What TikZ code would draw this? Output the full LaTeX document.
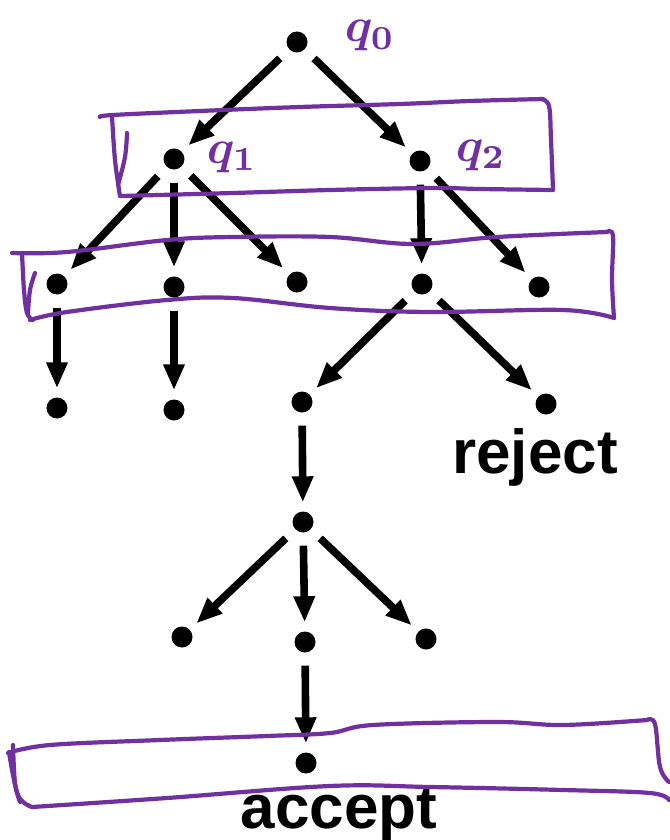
\documentclass[tikz,border=0pt]{standalone}
\usepackage{fontspec}
\setmainfont{Liberation Sans}
\usetikzlibrary{arrows.meta}
\definecolor{penc}{RGB}{112,48,160}
\begin{document}
\begin{tikzpicture}[x=1pt,y=-1pt,
  state/.style={circle,fill=black,inner sep=0pt,minimum size=21pt},
  move/.style={line width=7.6pt,-{Triangle[length=26pt,width=20pt]},shorten <=13pt,shorten >=9pt},
  pen/.style={draw=penc,line width=4.2pt,line cap=round,line join=round},
  hand/.style={text=penc,inner sep=0pt,scale=4.8,font=\boldmath},
  word/.style={anchor=base,inner sep=0pt,font=\bfseries\fontsize{62}{70}\selectfont}]
\useasboundingbox (0,0) rectangle (669,840);

% states of the computation tree
\node[state] (q0) at (297,42) {};
\node[state] (q1) at (174,159) {};
\node[state] (q2) at (420,161) {};
\node[state] (a1) at (57,284) {};
\node[state] (a2) at (174,287) {};
\node[state] (a3) at (297,282) {};
\node[state] (a4) at (422,284) {};
\node[state] (a5) at (539,287) {};
\node[state] (b1) at (57,408) {};
\node[state] (b2) at (174,410) {};
\node[state] (b3) at (302,402) {};
\node[state] (b4) at (546,404) {};
\node[state] (c1) at (303,522) {};
\node[state] (d1) at (182,637) {};
\node[state] (d2) at (305,642) {};
\node[state] (d3) at (426,639) {};
\node[state] (e1) at (306,763) {};

% transitions
\foreach \s/\t in {q0/q1,q0/q2,q1/a1,q1/a2,q1/a3,q2/a4,q2/a5,a1/b1,a2/b2,a4/b3,a4/b4,b3/c1,c1/d1,c1/d2,c1/d3,d2/e1}
  \draw[move] (\s) -- (\t);

% outcome words
\node[word] (rej) at (535,473) {reject};
\node[word] (acc) at (339,828) {accept};

% hand-drawn state labels
\node[hand] (l0) at (370,36) {$q_0$};
\node[hand] (l1) at (232,157) {$q_1$};
\node[hand] (l2) at (481,155) {$q_2$};

% hand-drawn level boxes
\draw[pen] plot[smooth,tension=0.6] coordinates {(100,117) (113,115) (200,111) (300,107) (400,104) (470,101) (543,99)};
\draw[pen] plot[smooth,tension=0.6] coordinates {(541,99) (549,106) (551,140) (553,190)};
\draw[pen] plot[smooth,tension=0.6] coordinates {(553,190) (480,189) (433,188) (330,190) (233,193) (120,196)};
\draw[pen] plot[smooth,tension=0.6] coordinates {(112,116) (115,160) (120,196)};
\draw[pen] plot[smooth,tension=0.6] coordinates {(127,133) (125,157) (118,185)};

\draw[pen] plot[smooth,tension=0.6] coordinates {(12,253) (67,252) (167,240) (233,237) (330,237) (413,244) (497,237) (607,232)};
\draw[pen] plot[smooth,tension=0.6] coordinates {(607,232) (613,236) (612,280) (614,318)};
\draw[pen] plot[smooth,tension=0.6] coordinates {(614,318) (563,310) (430,312) (330,308) (233,298) (167,300) (67,312) (30,320)};
\draw[pen] plot[smooth,tension=0.6] coordinates {(22,253) (24,290) (27,313) (33,320)};
\draw[pen] plot[smooth,tension=0.6] coordinates {(35,273) (30,290) (28,313)};

\draw[pen] plot[smooth,tension=0.6] coordinates {(8,753) (50,745) (160,740) (267,736) (330,733) (373,725) (497,722) (563,725) (647,720)};
\draw[pen] plot[smooth,tension=0.6] coordinates {(647,720) (655,724) (660,767) (669,782)};
\draw[pen] plot[smooth,tension=0.6] coordinates {(669,800) (650,793) (563,790) (430,787) (330,786) (167,798) (32,807)};
\draw[pen] plot[smooth,tension=0.6] coordinates {(9,752) (18,795) (32,807)};
\draw[pen] plot[smooth,tension=0.6] coordinates {(13,745) (15,783) (20,802)};
\end{tikzpicture}
\end{document}
